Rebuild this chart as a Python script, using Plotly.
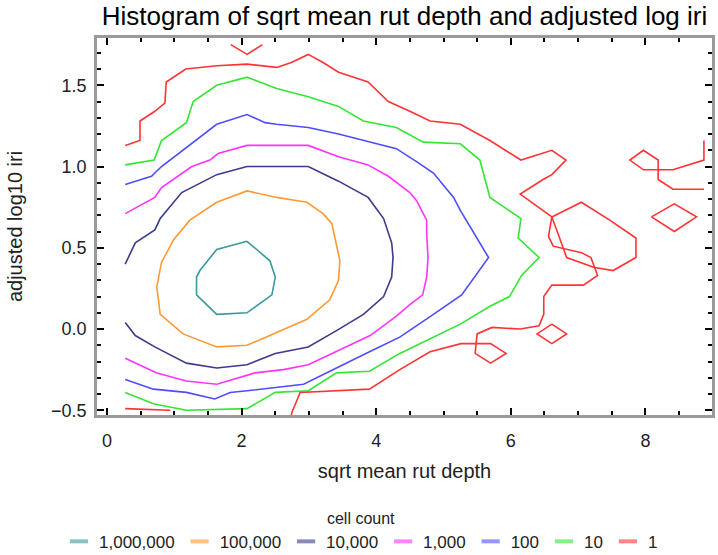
import plotly.graph_objects as go

# Contour paths (data units), one level per colour
levels = ["1,000,000", "100,000", "10,000", "1,000", "100", "10", "1"]
colors = ["#3a9a9a", "#ff9933", "#3c3c8c", "#ff33ff", "#4d4dff", "#33e633", "#ff3333"]
legend_colors = ["rgba(58,154,154,0.6)", "rgba(255,153,51,0.6)", "rgba(60,60,140,0.6)",
                 "rgba(255,51,255,0.6)", "rgba(77,77,255,0.6)", "rgba(51,230,51,0.6)",
                 "rgba(255,51,51,0.6)"]

teal_x = [2.08, 1.63, 1.38, 1.33, 1.33, 1.63, 2.08, 2.45, 2.50, 2.42, 2.08]
teal_y = [0.54, 0.49, 0.36, 0.32, 0.21, 0.09, 0.10, 0.21, 0.32, 0.42, 0.54]

orange_x = [1.63, 2.08, 2.52, 2.97, 3.21, 3.34, 3.46, 3.44, 3.31, 2.97, 2.47, 2.08, 1.63,
            1.13, 0.79, 0.74, 0.81, 0.99, 1.23, 1.63]
orange_y = [0.78, 0.85, 0.81, 0.78, 0.71, 0.65, 0.42, 0.30, 0.18, 0.06, -0.03, -0.10, -0.11,
            -0.03, 0.09, 0.26, 0.41, 0.55, 0.67, 0.78]

navy_x = [0.27, 0.42, 0.71, 0.79, 1.11, 1.63, 2.08, 2.52, 2.99, 3.44, 3.88, 4.11, 4.23, 4.25,
          4.23, 4.11, 3.81, 3.41, 2.99, 2.50, 2.08, 1.63, 1.18, 0.71, 0.42, 0.27]
navy_y = [0.40, 0.53, 0.61, 0.68, 0.84, 0.95, 1.00, 1.00, 1.00, 0.91, 0.81, 0.68, 0.53, 0.44,
          0.32, 0.20, 0.09, -0.01, -0.11, -0.15, -0.22, -0.24, -0.21, -0.11, -0.04, 0.04]

magenta_x = [0.27, 0.71, 0.81, 1.26, 1.53, 1.65, 2.08, 2.52, 2.99, 3.44, 3.88, 4.18, 4.50,
             4.60, 4.75, 4.75, 4.77, 4.75, 4.69, 4.50, 4.30, 3.91, 3.41, 2.99, 2.62, 2.20,
             1.63, 1.18, 0.74, 0.27]
magenta_y = [0.71, 0.81, 0.87, 1.00, 1.04, 1.08, 1.13, 1.13, 1.13, 1.06, 1.01, 0.94, 0.84,
             0.79, 0.67, 0.59, 0.44, 0.32, 0.21, 0.15, 0.08, -0.04, -0.14, -0.22, -0.25, -0.27,
             -0.34, -0.32, -0.27, -0.18]

blue_x = [0.27, 0.66, 0.81, 1.26, 1.63, 2.08, 2.35, 2.52, 2.99, 3.44, 3.81, 4.30, 4.60, 4.85,
          5.15, 5.25, 5.67, 5.27, 4.85, 4.35, 3.90, 3.36, 2.92, 2.08, 1.83, 1.60, 1.18, 0.69,
          0.27]
blue_y = [0.89, 0.94, 1.00, 1.14, 1.26, 1.32, 1.27, 1.26, 1.24, 1.20, 1.16, 1.11, 1.03, 0.96,
          0.81, 0.73, 0.44, 0.21, 0.09, -0.05, -0.14, -0.25, -0.34, -0.38, -0.39, -0.43, -0.39,
          -0.37, -0.31]

green_x = [0.27, 0.70, 0.81, 1.18, 1.28, 1.63, 2.08, 2.52, 2.99, 3.44, 3.81, 4.30, 4.70, 5.25,
           5.54, 5.69, 6.15, 6.11, 6.42, 6.16, 5.98, 5.69, 5.25, 4.35, 3.90, 3.41, 2.99, 2.50,
           2.08, 1.18, 0.69, 0.27]
green_y = [1.01, 1.04, 1.16, 1.27, 1.40, 1.50, 1.55, 1.48, 1.43, 1.37, 1.28, 1.24, 1.15, 1.14,
           1.04, 0.81, 0.68, 0.56, 0.44, 0.33, 0.20, 0.14, 0.03, -0.15, -0.26, -0.27, -0.38,
           -0.39, -0.49, -0.50, -0.46, -0.39]

# level 1 is made of several separate pieces (None separates them)
red_x = [0.27, 0.49, 0.49, 0.71, 0.86, 0.88, 1.17, 1.63, 2.08, 2.52, 2.74, 2.99, 3.21, 3.44,
         3.88, 4.18, 4.50, 4.80, 5.25, 5.69, 6.15, 6.61, 6.82, 6.61, 6.48, 6.14, 6.61, 6.56,
         6.63, 7.05, 7.19, 7.29, 7.08, 6.61, 6.49, 6.49, 6.42, 6.14, 5.72, 5.50, 5.47, 5.70,
         5.93, 5.70, 5.26, 4.80, 4.35, 3.90, 2.87, 2.75, 2.70, None,
         6.61, 7.05, 7.47, 7.86, 7.86, 7.52, 7.23, 6.83, 6.69, 6.61, None,
         6.61, 6.83, 6.61, 6.39, 6.61, None,
         8.87, 8.41, 8.19, 8.19, 7.97, 7.77, 7.97, 8.41, 8.87, 8.87, None,
         8.09, 8.43, 8.76, 8.43, 8.09, None,
         1.84, 2.08, 2.31, None,
         0.27, 0.94]
red_y = [1.13, 1.16, 1.28, 1.34, 1.39, 1.52, 1.60, 1.62, 1.63, 1.61, 1.64, 1.69, 1.64, 1.58,
         1.52, 1.40, 1.34, 1.28, 1.26, 1.16, 1.04, 1.10, 1.04, 0.95, 0.92, 0.83, 0.69, 0.57,
         0.51, 0.47, 0.44, 0.33, 0.27, 0.27, 0.20, 0.09, 0.02, 0.00, 0.01, -0.03, -0.15, -0.21,
         -0.15, -0.09, -0.09, -0.14, -0.25, -0.37, -0.39, -0.51, -0.60, None,
         0.69, 0.78, 0.67, 0.56, 0.44, 0.36, 0.38, 0.44, 0.60, 0.69, None,
         0.03, -0.03, -0.09, -0.03, 0.03, None,
         0.86, 0.86, 0.92, 1.04, 1.10, 1.04, 0.98, 0.98, 1.04, 1.16, None,
         0.69, 0.77, 0.69, 0.60, 0.69, None,
         1.75, 1.69, 1.75, None,
         -0.49, -0.50]

paths = [(teal_x, teal_y), (orange_x, orange_y), (navy_x, navy_y), (magenta_x, magenta_y),
         (blue_x, blue_y), (green_x, green_y), (red_x, red_y)]

title_text = "Histogram of sqrt mean rut depth and adjusted log iri"
x_title = "sqrt mean rut depth"
y_title = "adjusted log10 iri"
legend_title = "cell count"
x_range = [-0.149, 8.99]
y_range = [-0.529, 1.791]

fig = go.Figure()
for (px, py), col in zip(paths, colors):
    fig.add_trace(go.Scatter(x=px, y=py, mode="lines", line=dict(color=col, width=1.6),
                             showlegend=False, hoverinfo="skip"))
for name, lc in zip(levels, legend_colors):
    fig.add_trace(go.Scatter(x=[None], y=[None], mode="markers", name=name,
                             marker=dict(symbol="line-ew-open", size=13, color=lc,
                                         line=dict(color=lc, width=4))))

font = "Liberation Sans, Arial, sans-serif"
axis_common = dict(showline=True, linecolor="#9a9a9a", linewidth=2.5, mirror="allticks",
                   ticks="inside", tickcolor="black", tickwidth=2, ticklen=7,
                   showgrid=False, zeroline=False,
                   tickfont=dict(family=font, size=18, color="#222"))

fig.update_layout(
    width=718, height=555,
    margin=dict(l=97, r=6, t=38, b=140, autoexpand=False),
    paper_bgcolor="white", plot_bgcolor="white",
    title=dict(text=title_text, x=0.5, xref="paper", y=1 - 16 / 555, yref="container",
               yanchor="middle", xanchor="center",
               font=dict(family=font, size=26, color="black")),
    xaxis=dict(range=x_range, tickvals=[0, 2, 4, 6, 8], ticklabelstandoff=8,
               minor=dict(ticks="inside", dtick=0.5, tick0=0, ticklen=4, tickwidth=2,
                          tickcolor="black"),
               title=dict(text=x_title, standoff=14,
                          font=dict(family=font, size=20, color="#222")),
               **axis_common),
    yaxis=dict(range=y_range, tickvals=[-0.5, 0.0, 0.5, 1.0, 1.5], tickformat=".1f",
               ticklabelstandoff=4,
               minor=dict(ticks="inside", dtick=0.1, tick0=0, ticklen=4, tickwidth=2,
                          tickcolor="black"),
               title=dict(text=y_title, standoff=24,
                          font=dict(family=font, size=20, color="#222")),
               **axis_common),
    legend=dict(orientation="h", x=(361 - 97) / 615, xanchor="center", xref="paper",
                y=-(503 - 415) / 377, yanchor="top", yref="paper",
                title=dict(text=legend_title, side="top center",
                           font=dict(family=font, size=16, color="#222")),
                font=dict(family=font, size=17, color="#222"),
                itemwidth=30, tracegroupgap=0),
)

fig.write_html("out.html")
